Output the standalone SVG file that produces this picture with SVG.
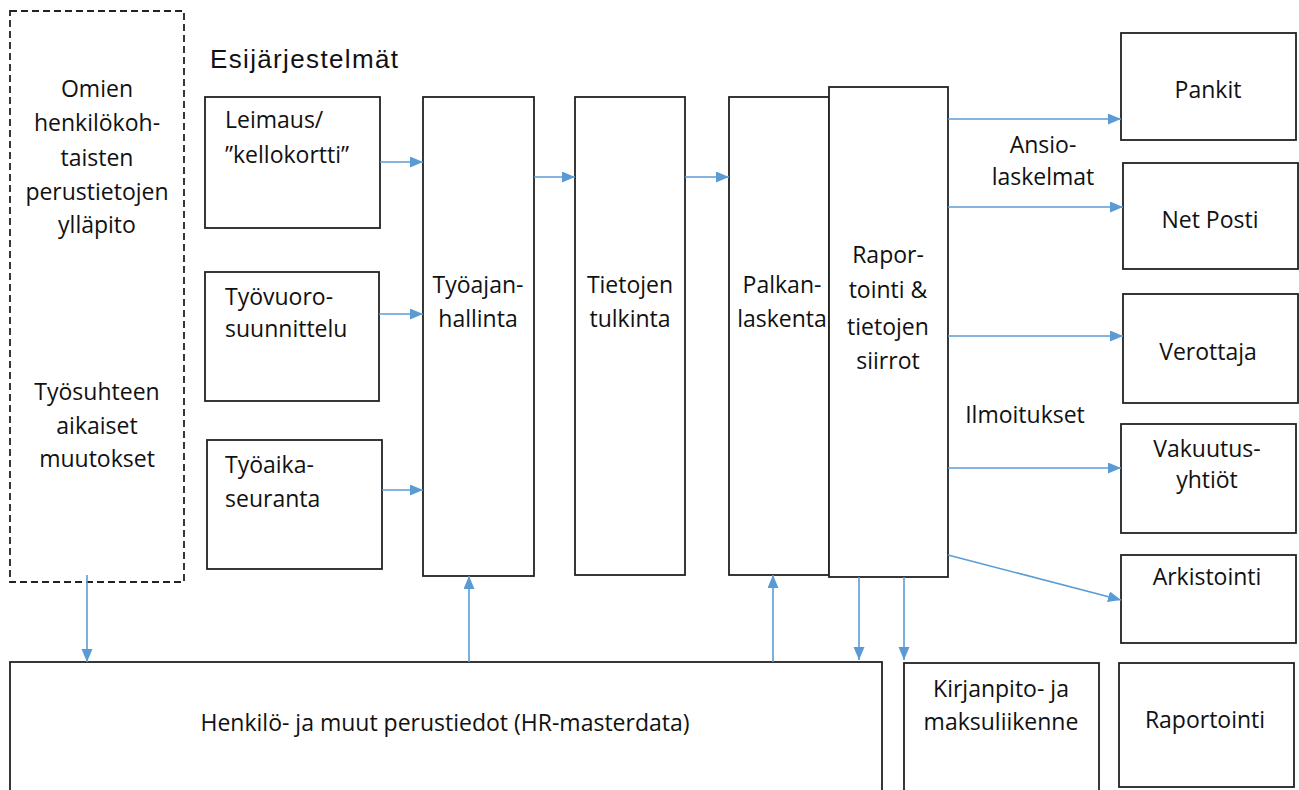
<svg xmlns="http://www.w3.org/2000/svg" width="1299" height="790" viewBox="0 0 1299 790">
<style>
  .box{fill:#fff;stroke:#222;stroke-width:1.8}
  .dash{fill:#fff;stroke:#222;stroke-width:1.8;stroke-dasharray:7 4}
  .t{font-family:"Open Sans","Noto Sans","Liberation Sans",sans-serif;font-size:23px;fill:#111}
  .c{text-anchor:middle}
  .conn{stroke:#5B9BD5;stroke-width:1.6;fill:none;marker-end:url(#ah)}
  .title{font-family:"Liberation Sans",Arial,sans-serif;font-size:26px;fill:#111}
</style>
<defs>
  <marker id="ah" markerUnits="userSpaceOnUse" markerWidth="14" markerHeight="12" refX="13" refY="5.5" orient="auto">
    <path d="M0,0 L13,5.5 L0,11 Z" fill="#5B9BD5"/>
  </marker>
</defs>
<rect width="1299" height="790" fill="#fff"/>

<g id="dashed-box">
  <rect class="dash" x="10" y="11" width="174" height="571"/>
  <text class="t c" x="97" y="97">Omien</text>
  <text class="t c" x="97" y="131">henkilökoh-</text>
  <text class="t c" x="97" y="166">taisten</text>
  <text class="t c" x="97" y="200">perustietojen</text>
  <text class="t c" x="97" y="233">ylläpito</text>
  <text class="t c" x="97" y="400">Työsuhteen</text>
  <text class="t c" x="97" y="434">aikaiset</text>
  <text class="t c" x="97" y="467">muutokset</text>
</g>

<g id="title">
  <text class="title" x="210" y="68" textLength="188" lengthAdjust="spacing">Esijärjestelmät</text>
</g>

<g id="leimaus">
  <rect class="box" x="205" y="97" width="175" height="131"/>
  <text class="t" x="225" y="128">Leimaus/</text>
  <text class="t" x="225" y="163">”kellokortti”</text>
</g>
<g id="tyovuoro">
  <rect class="box" x="205" y="272" width="174" height="129"/>
  <text class="t" x="225" y="305">Työvuoro-</text>
  <text class="t" x="225" y="337">suunnittelu</text>
</g>
<g id="tyoaika">
  <rect class="box" x="207" y="440" width="175" height="129"/>
  <text class="t" x="225" y="473">Työaika-</text>
  <text class="t" x="225" y="507">seuranta</text>
</g>

<g id="tyoajanhallinta">
  <rect class="box" x="423" y="97" width="111" height="479"/>
  <text class="t c" x="478" y="293">Työajan-</text>
  <text class="t c" x="478" y="327">hallinta</text>
</g>
<g id="tietojen-tulkinta">
  <rect class="box" x="575" y="97" width="110" height="478"/>
  <text class="t c" x="630" y="293">Tietojen</text>
  <text class="t c" x="630" y="327">tulkinta</text>
</g>
<g id="palkanlaskenta">
  <rect class="box" x="729" y="97" width="100" height="478"/>
  <text class="t c" x="782" y="293">Palkan-</text>
  <text class="t c" x="782" y="327">laskenta</text>
</g>
<g id="raportointi-siirrot">
  <rect class="box" x="829" y="87" width="119" height="490"/>
  <text class="t c" x="888" y="263">Rapor-</text>
  <text class="t c" x="888" y="298">tointi &amp;</text>
  <text class="t c" x="888" y="335">tietojen</text>
  <text class="t c" x="888" y="369">siirrot</text>
</g>

<g id="pankit">
  <rect class="box" x="1121" y="33" width="175" height="107"/>
  <text class="t c" x="1208" y="98">Pankit</text>
</g>
<g id="netposti">
  <rect class="box" x="1123" y="163" width="175" height="106"/>
  <text class="t c" x="1210" y="228">Net Posti</text>
</g>
<g id="verottaja">
  <rect class="box" x="1123" y="294" width="175" height="109"/>
  <text class="t c" x="1208" y="360">Verottaja</text>
</g>
<g id="vakuutusyhtiot">
  <rect class="box" x="1121" y="424" width="175" height="109"/>
  <text class="t c" x="1207" y="457">Vakuutus-</text>
  <text class="t c" x="1207" y="488">yhtiöt</text>
</g>
<g id="arkistointi">
  <rect class="box" x="1121" y="555" width="175" height="88"/>
  <text class="t c" x="1207" y="585">Arkistointi</text>
</g>

<g id="hr-masterdata">
  <rect class="box" x="10" y="662" width="872" height="140"/>
  <text class="t c" x="445" y="731">Henkilö- ja muut perustiedot (HR-masterdata)</text>
</g>
<g id="kirjanpito">
  <rect class="box" x="904" y="663" width="195" height="140"/>
  <text class="t c" x="1001" y="697">Kirjanpito- ja</text>
  <text class="t c" x="1001" y="730">maksuliikenne</text>
</g>
<g id="raportointi">
  <rect class="box" x="1119" y="663" width="175" height="124"/>
  <text class="t c" x="1205" y="728">Raportointi</text>
</g>

<g id="labels">
  <text class="t c" x="1043" y="153">Ansio-</text>
  <text class="t c" x="1043" y="185">laskelmat</text>
  <text class="t c" x="1025" y="423">Ilmoitukset</text>
</g>

<g id="connectors">
  <line class="conn" x1="380" y1="162" x2="423" y2="162"/>
  <line class="conn" x1="379" y1="314" x2="423" y2="314"/>
  <line class="conn" x1="382" y1="490" x2="423" y2="490"/>
  <line class="conn" x1="534" y1="177" x2="575" y2="177"/>
  <line class="conn" x1="685" y1="177" x2="729" y2="177"/>
  <line class="conn" x1="948" y1="119" x2="1121" y2="119"/>
  <line class="conn" x1="948" y1="207" x2="1123" y2="207"/>
  <line class="conn" x1="948" y1="336" x2="1123" y2="336"/>
  <line class="conn" x1="948" y1="468" x2="1121" y2="468"/>
  <line class="conn" x1="948" y1="555" x2="1121" y2="600"/>
  <line class="conn" x1="87" y1="575" x2="87" y2="662"/>
  <line class="conn" x1="469" y1="662" x2="469" y2="576"/>
  <line class="conn" x1="773" y1="662" x2="773" y2="575"/>
  <line class="conn" x1="859" y1="577" x2="859" y2="660"/>
  <line class="conn" x1="904" y1="577" x2="904" y2="660"/>
</g>
</svg>
